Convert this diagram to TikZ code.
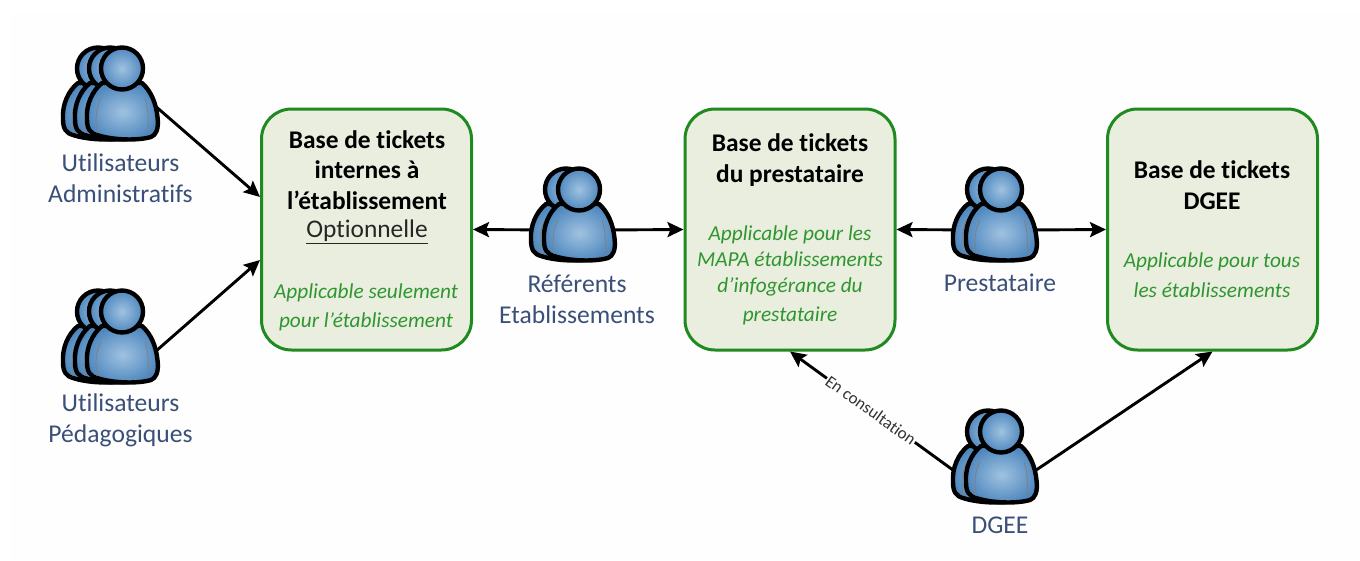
\documentclass[tikz,border=0pt]{standalone}
\usepackage{fontspec}
\setmainfont[Ligatures=NoCommon]{Carlito}
\usetikzlibrary{arrows.meta}
\definecolor{boxgreen}{HTML}{1F8A1F}
\definecolor{boxfill}{HTML}{E9EEDF}
\definecolor{itgreen}{HTML}{2F962F}
\definecolor{labelblue}{HTML}{3A5078}
\definecolor{skinlight}{HTML}{A0C2E0}
\definecolor{skindark}{HTML}{4F88BF}
\definecolor{paper}{HTML}{FEFEFE}
\tikzset{
  x=1pt,y=-1pt,
  base/.style={draw=boxgreen,line width=3pt,fill=boxfill,rounded corners=30pt,minimum width=210pt,minimum height=241pt,inner sep=0pt},
  holder/.style={minimum width=70pt,minimum height=93pt,inner sep=0pt},
  title/.style={align=center,font=\fontsize{25.4}{30.5}\selectfont\bfseries,text=black},
  optional/.style={align=center,font=\fontsize{25.4}{30.5}\selectfont,text=black!85},
  applic/.style={align=center,text=itgreen,font=\fontsize{21.3}{#1}\selectfont\itshape},
  who/.style={align=center,text=labelblue,font=\fontsize{25.6}{31}\selectfont},
  conn/.style={line width=2.9pt,-{Stealth[length=16pt,width=15pt,inset=3pt]}},
  outl/.style={draw=black,line width=4.4pt,line join=round},
  flesh/.style={outl,inner color=skinlight,outer color=skindark}
}
\newcommand{\oneperson}[2]{%
  \begin{scope}[shift={(#1,#2)}]
    \path[flesh] (-20,36) .. controls (-30,44) and (-36,58) .. (-35,72) .. controls (-35,82) and (-32,86) .. (-25,88) .. controls (-10,93) and (15,94) .. (29,90) .. controls (34,88) and (37,82) .. (35.5,70) .. controls (34,56) and (29,44) .. (20,36) -- cycle;
    \draw[black!50,line width=.8pt] (-25,86) .. controls (-27,72) and (-26,60) .. (-21,52);
    \draw[black!50,line width=.8pt] (26,86) .. controls (27,72) and (26,60) .. (23,52);
    \path[flesh] (0,21.5) circle[radius=21];
  \end{scope}}
\newcommand{\threepeople}[2]{\oneperson{#1-24}{#2}\oneperson{#1-12}{#2}\oneperson{#1}{#2}}
\newcommand{\twopeople}[2]{\oneperson{#1-13}{#2}\oneperson{#1}{#2}}
\begin{document}
\begin{tikzpicture}
\useasboundingbox (0,0) rectangle (1360,560);
\fill[white] (0,0) rectangle (1360,560);
\fill[paper] (10,12) rectangle (1360,560);
\node[base] (boxa) at (366.5,229.5) {};
\node[base] (boxb) at (790,229.5) {};
\node[base] (boxc) at (1212.5,229.5) {};
\node[holder] (pa) at (122,93.5) {};
\node[holder] (pb) at (122,336.5) {};
\node[holder] (pc) at (579,215) {};
\node[holder] (pd) at (1001,215) {};
\node[holder] (pe) at (1001,456.5) {};
% connectors
\draw[conn] (pa.-22) -- (boxa.163.4);
\draw[conn] (pb.-21) -- (boxa.196.6);
\draw[conn] (pc.203) -- (boxa.east);
\draw[conn] (pc.-23) -- (boxb.west);
\draw[conn] (pd.203) -- (boxb.east);
\draw[conn] (pd.-23) -- (boxc.west);
\draw[conn] (pe.213) -- node[pos=.54,fill=paper,inner sep=1pt,rotate=-35.5,text=black!80,font=\fontsize{17}{17}\selectfont] (cons) {En consultation} (boxb.south);
\draw[conn] (pe.-21) -- (boxc.south);
% people
\threepeople{122}{47}
\threepeople{122}{290}
\twopeople{579}{168}
\twopeople{1001}{168}
\twopeople{1001}{410}
% labels
\node[who] (la) at (120.5,178) {Utilisateurs\\Administratifs};
\node[who] (lb) at (120.5,420) {Utilisateurs\\Pédagogiques};
\node[who] (lc) at (577,299.5) {Référents\\Etablissements};
\node[who] (ld) at (1000,283) {Prestataire};
\node[who] (le) at (1000,525) {DGEE};
\node[title] (ta) at (367,170) {Base de tickets\\internes à\\l’établissement};
\node[optional] (oa) at (367,232) {\underline{Optionnelle}};
\node[applic=29] (ga) at (366,307) {Applicable seulement\\pour l’établissement};
\node[title] (tb) at (790,160) {Base de tickets\\du prestataire};
\node[applic=26] (gb) at (790,275) {Applicable pour les\\MAPA établissements\\d’infogérance du\\[3pt]prestataire};
\node[title] (tc) at (1212,185) {Base de tickets\\DGEE};
\node[applic=29.5] (gc) at (1212,275) {Applicable pour tous\\les établissements};
\end{tikzpicture}
\end{document}
